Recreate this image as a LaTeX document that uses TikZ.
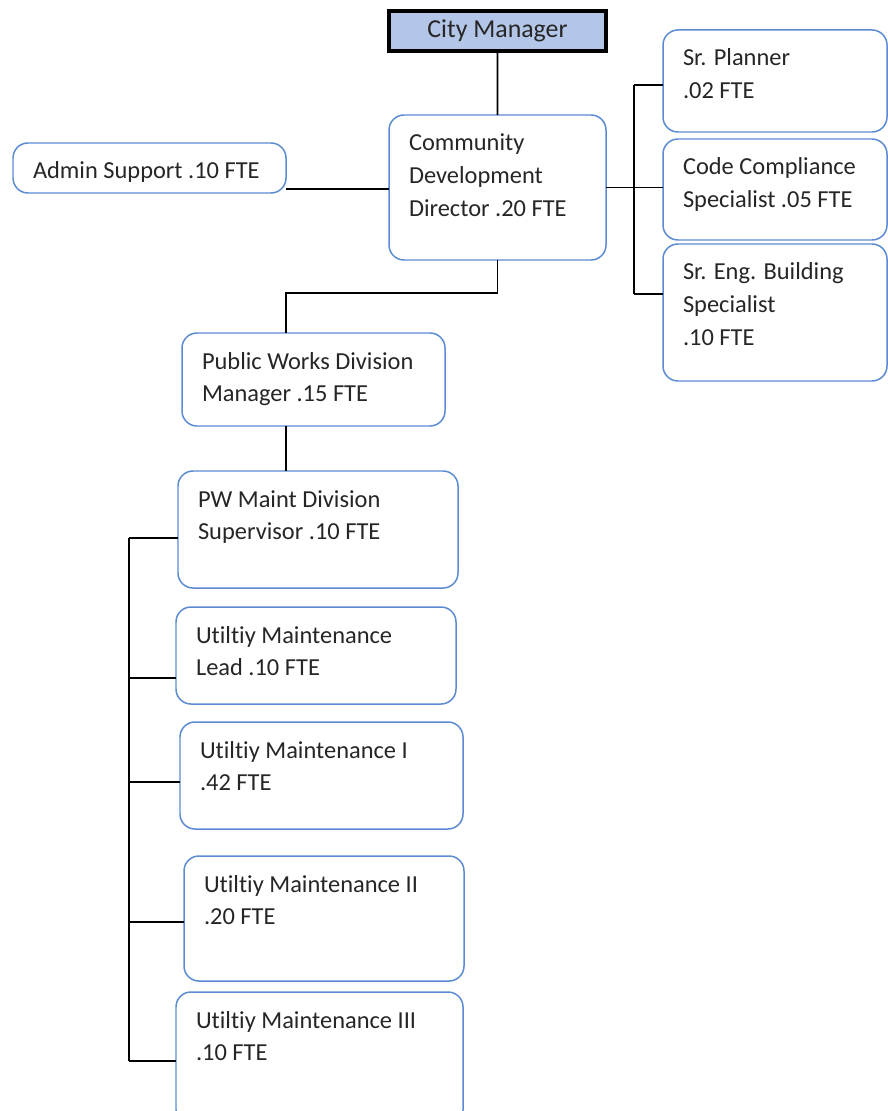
\documentclass[tikz,border=0pt]{standalone}
\usepackage{fontspec}
\setmainfont{Carlito}[Ligatures=NoCommon]
\usetikzlibrary{positioning,calc}
\newdimen\px \px=0.02cm
\definecolor{boxblue}{HTML}{5B8BD3}
\definecolor{headfill}{HTML}{B4C6E7}
\definecolor{inkgray}{HTML}{262626}
\newcommand{\orgfont}{\fontsize{13.9pt}{18.7pt}\selectfont}
\newcommand{\boxtext}[3]{\parbox[c][#2\px][t]{#1\px}{\raggedright\leftskip=20\px\relax\vspace*{13\px}\strut#3}}
\tikzset{
  orgbox/.style={draw=boxblue, line width=0.85pt, rounded corners=0.3cm, fill=white, inner sep=0pt, outer sep=0pt, anchor=north west, text=inkgray, font=\orgfont},
  headbox/.style={draw=black, line width=2.3pt, fill=headfill, inner sep=0pt, outer sep=0pt, anchor=north west, minimum width=4.34cm, minimum height=0.8cm, text=inkgray, font=\fontsize{14.7pt}{18pt}\selectfont},
  link/.style={line width=1.1pt, black}
}
\begin{document}
\begin{tikzpicture}[x=0.02cm, y=-0.02cm]
  \useasboundingbox (0,0) rectangle (888,1111);
  \node[headbox] (cm) at (389,11) {City Manager};
  \node[orgbox] (cdd) at (389,115) {\boxtext{217}{145}{Community\\Development\\Director .20 FTE}};
  \node[orgbox] (admin) at (13,143) {\boxtext{273}{50}{Admin Support .10 FTE}};
  \node[orgbox] (sp) at (663,30) {\boxtext{224}{102}{Sr. Planner\\.02 FTE}};
  \node[orgbox] (cc) at (663,139) {\boxtext{224}{101}{Code Compliance\\Specialist .05 FTE}};
  \node[orgbox] (se) at (663,244) {\boxtext{224}{137}{Sr. Eng. Building\\Specialist\\.10 FTE}};
  \node[orgbox] (pwdm) at (182,333) {\boxtext{263}{93}{Public Works Division\\Manager .15 FTE}};
  \node[orgbox] (pws) at (178,471) {\boxtext{280}{117}{PW Maint Division\\Supervisor .10 FTE}};
  \node[orgbox] (lead) at (176,607) {\boxtext{280}{97}{Utiltiy Maintenance\\Lead .10 FTE}};
  \node[orgbox] (m1) at (180,722) {\boxtext{283}{107}{Utiltiy Maintenance I\\.42 FTE}};
  \node[orgbox] (m2) at (184,856) {\boxtext{280}{125}{Utiltiy Maintenance II\\.20 FTE}};
  \node[orgbox] (m3) at (176,992) {\boxtext{287}{133}{Utiltiy Maintenance III\\.10 FTE}};

  \draw[link] (cm.south) -- (cdd.north);
  \coordinate (atap) at (0,189);
  \draw[link] (admin.east |- atap) -- (cdd.west |- atap);

  \coordinate (rtop) at (634,85);
  \coordinate (rbot) at (634,294);
  \draw[link] (rtop) -- (rbot);
  \draw[link] (rtop) -- (rtop -| sp.west);
  \draw[link] (cdd.east) -- (cc.west |- cdd.east);
  \draw[link] (rbot) -- (rbot -| se.west);

  \coordinate (pwx) at (286,293);
  \draw[link] (cdd.south) |- (pwx) -- (pwx |- pwdm.north);
  \draw[link] (pwx |- pwdm.south) -- (pwx |- pws.north);

  \coordinate (ltop) at (129,538);
  \coordinate (lbot) at (129,1061);
  \draw[link] (ltop) -- (lbot);
  \foreach \n/\y in {pws/538, lead/678, m1/782, m2/922, m3/1061}
    \draw[link] (129,\y) coordinate (tap) -- (tap -| \n.west);
\end{tikzpicture}
\end{document}
